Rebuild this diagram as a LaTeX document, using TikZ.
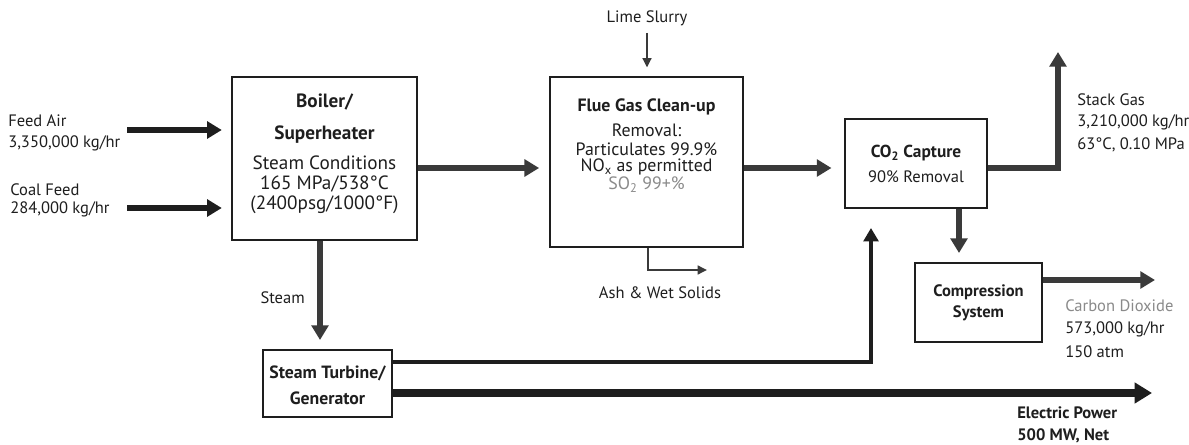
\documentclass[tikz,border=0pt]{standalone}
\usepackage{fontspec}
\setmainfont{PT Sans}
\usetikzlibrary{arrows.meta,fit}
\definecolor{ink}{HTML}{1E1E1E}
\definecolor{arr}{HTML}{3A3A3A}
\definecolor{soft}{HTML}{8A8A8A}
\begin{document}
\begin{tikzpicture}[x=0.75pt,y=-0.75pt,
  box/.style={draw=ink, line width=1.3pt, inner sep=0pt},
  lbl/.style={inner sep=0pt, text=ink, font=\fontsize{12.4}{14}\selectfont},
  lblb/.style={inner sep=0pt, text=ink, font=\fontsize{12.4}{14}\selectfont\bfseries},
  boilt/.style={inner sep=0pt, text=ink, font=\fontsize{14.4}{16}\selectfont},
  fluet/.style={inner sep=0pt, text=ink, font=\fontsize{13.4}{15}\selectfont},
  thickarrow/.style={draw=arr, line width=4.5pt, -{Triangle[length=11pt,width=12.5pt]}},
  blackarrow/.style={thickarrow, draw=ink},
  thinarrow/.style={draw=arr, line width=1.8pt, -{Triangle[length=7pt,width=6.5pt]}},
  heavyline/.style={draw=ink, line width=6.5pt, -{Triangle[length=13pt,width=15pt]}},
  midline/.style={draw=ink, line width=3.6pt, -{Triangle[length=10pt,width=11pt]}}
]
\useasboundingbox (0,0) rectangle (1189,445);
\fill[white] (0,0) rectangle (1189,445);

% boxes
\node[box, fit={(232,77) (417,240)}] (boiler) {};
\node[box, fit={(550,77) (743,247)}] (flue) {};
\node[box, fit={(845,119) (987,208)}] (capt) {};
\node[box, fit={(915,263) (1042,342)}] (comp) {};
\node[box, fit={(263,350) (392,417)}] (turb) {};

% boiler text
\node[boilt, font=\fontsize{14.4}{16}\selectfont\bfseries] (b1) at (324.5,102) {Boiler/};
\node[boilt, font=\fontsize{14.4}{16}\selectfont\bfseries] (b2) at (324.5,135) {Superheater};
\node[boilt] (b3) at (324.5,163) {Steam Conditions};
\node[boilt] (b4) at (324.5,184) {165 MPa/538°C};
\node[boilt] (b5) at (324.5,205) {(2400psg/1000°F)};

% flue text
\node[fluet, font=\fontsize{13.4}{15}\selectfont\bfseries] (f1) at (646.5,107) {Flue Gas Clean-up};
\node[fluet] (f2) at (646.5,130) {Removal:};
\node[fluet] (f3) at (646.5,149) {Particulates 99.9\%};
\node[fluet] (f4) at (646.5,167) {NO\textsubscript{x} as permitted};
\node[fluet, text=soft] (f5) at (646.5,185) {SO\textsubscript{2} 99+\%};

% capture / compression / turbine text
\node[lblb, font=\fontsize{13}{15}\selectfont\bfseries] (c1) at (916,153) {CO\textsubscript{2} Capture};
\node[lbl] (c2) at (916,177) {90\% Removal};
\node[lblb] (p1) at (978.5,292) {Compression};
\node[lblb] (p2) at (978.5,313) {System};
\node[lblb, font=\fontsize{13.3}{15}\selectfont\bfseries] (t1) at (327.5,373) {Steam Turbine/};
\node[lblb, font=\fontsize{13.3}{15}\selectfont\bfseries] (t2) at (327.5,398) {Generator};

% outside labels
\node[lbl, anchor=west] (fa1) at (8,121) {Feed Air};
\node[lbl, anchor=west] (fa2) at (8,143) {3,350,000 kg/hr};
\node[lbl, anchor=west] (cf1) at (10,190) {Coal Feed};
\node[lbl, anchor=west] (cf2) at (10,209) {284,000 kg/hr};
\node[lbl] (lime) at (647,18) {Lime Slurry};
\node[lbl] (ash) at (660,293) {Ash \& Wet Solids};
\node[lbl, anchor=east] (stm) at (305,298) {Steam};
\node[lbl, anchor=west] (sg1) at (1077,100) {Stack Gas};
\node[lbl, anchor=west] (sg2) at (1077,122) {3,210,000 kg/hr};
\node[lbl, anchor=west] (sg3) at (1077,145) {63°C, 0.10 MPa};
\node[lbl, anchor=west, text=soft] (cd1) at (1065,306) {Carbon Dioxide};
\node[lbl, anchor=west] (cd2) at (1065,329) {573,000 kg/hr};
\node[lbl, anchor=west] (cd3) at (1065,352) {150 atm};
\node[lblb, anchor=west] (ep1) at (1017,413) {Electric Power};
\node[lblb, anchor=west] (ep2) at (1017,436) {500 MW, Net};

% connector end points
\coordinate (feedS) at (127,130);
\coordinate (coalS) at (127,208);
\coordinate (bfy) at (480,168);
\coordinate (limeS) at (647,33);
\coordinate (ashC) at (648,270);
\coordinate (ashE) at (707,270);
\coordinate (stackC) at (1058,168);
\coordinate (stackE) at (1058,52);
\coordinate (compT) at (959,253);
\coordinate (co2E) at (1155,280);
\coordinate (steamE) at (320,340);
\coordinate (turbC) at (871,362);
\coordinate (turbE) at (871,228);
\coordinate (powE) at (1152,393);

% connectors
\draw[blackarrow, shorten >=7pt] (feedS) -- (boiler.west |- feedS);
\draw[blackarrow, shorten >=7pt] (coalS) -- (boiler.west |- coalS);
\draw[thickarrow, shorten >=7.5pt] (boiler.east |- bfy) -- (flue.west |- bfy);
\draw[thickarrow, shorten >=9.5pt] (flue.east |- bfy) -- (capt.west |- bfy);
\draw[thinarrow, shorten >=6.5pt] (limeS) -- (flue.north -| limeS);
\draw[thinarrow] (flue.south -| ashC) -- (ashC) -- (ashE);
\draw[thickarrow] (capt.east |- stackC) -- (stackC) -- (stackE);
\draw[thickarrow] (capt.south -| compT) -- (compT);
\draw[thickarrow] (comp.east |- co2E) -- (co2E);
\draw[thickarrow] (boiler.south -| steamE) -- (steamE);
\draw[midline] (turb.east |- turbC) -- (turbC) -- (turbE);
\draw[heavyline] (turb.east |- powE) -- (powE);
\end{tikzpicture}
\end{document}
